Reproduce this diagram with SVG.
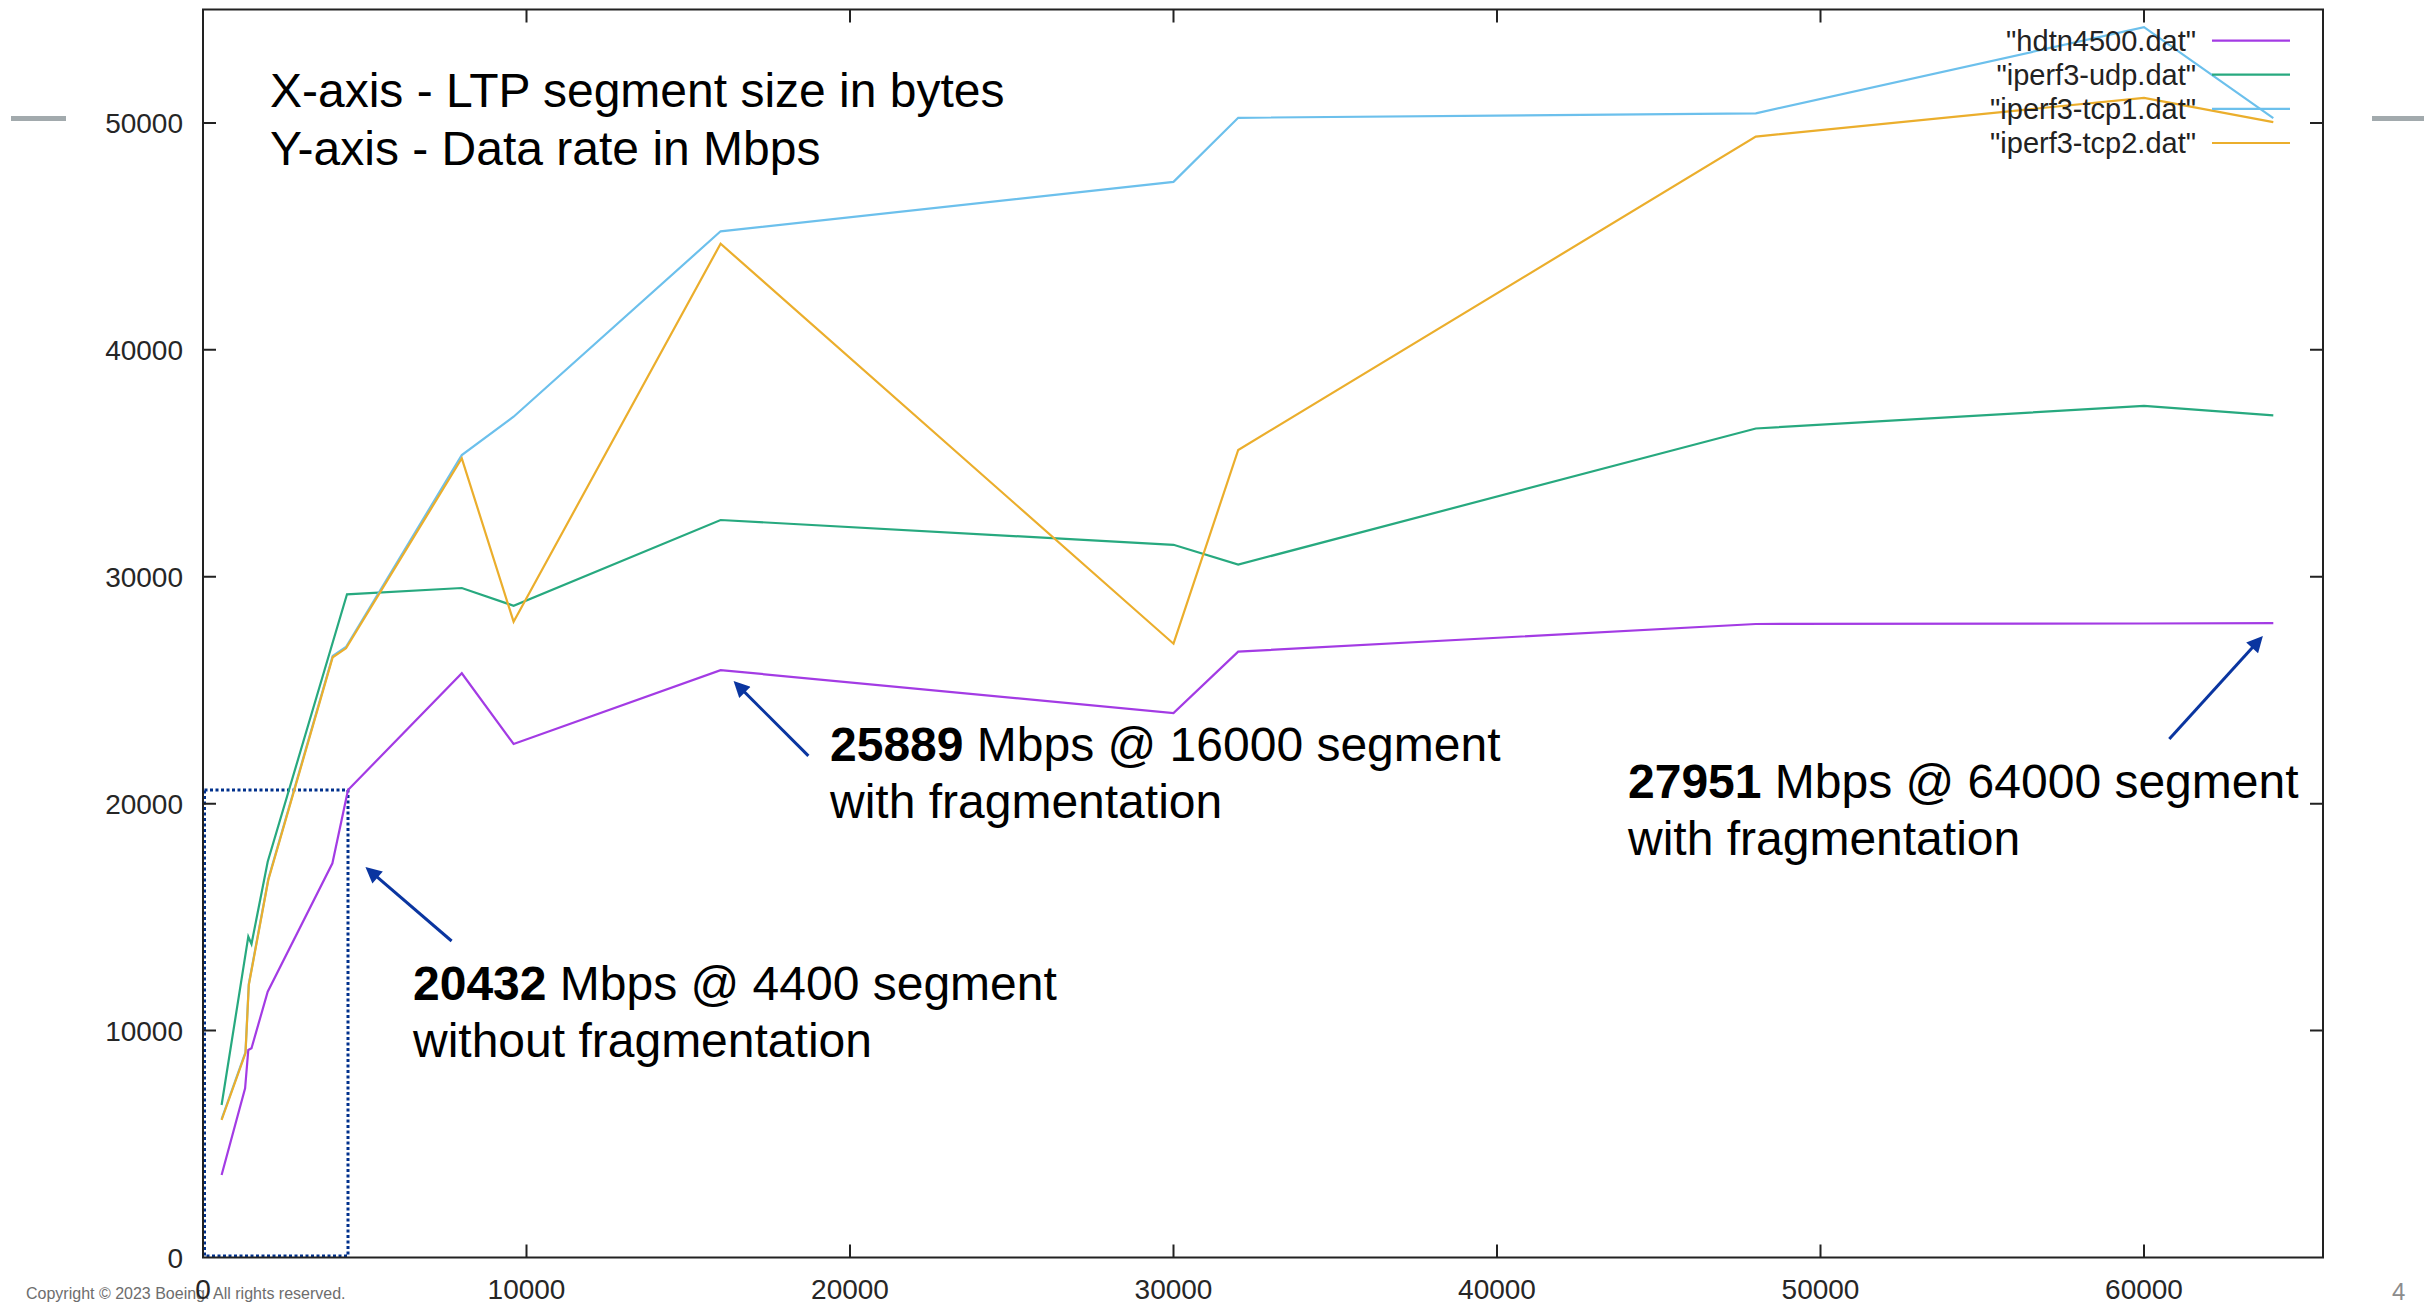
<svg xmlns="http://www.w3.org/2000/svg" width="2433" height="1304" viewBox="0 0 2433 1304">
  <style>
    .axis { fill: none; stroke: #222; stroke-width: 2; }
    .tick { stroke: #222; stroke-width: 2; }
    .tl { font-family: "Liberation Sans", Arial, sans-serif; font-size: 28px; fill: #262626; }
    .tly { text-anchor: end; }
    .tlx { text-anchor: middle; }
    .series { fill: none; stroke-width: 2.2; stroke-linejoin: miter; }
    .s-hdtn { stroke: #A33BE4; }
    .s-udp { stroke: #27A97F; }
    .s-tcp1 { stroke: #6CC0EC; }
    .s-tcp2 { stroke: #EBAE2C; }
    .leg { font-family: "Liberation Sans", Arial, sans-serif; font-size: 29px; fill: #222; text-anchor: end; }
    .note { font-family: "Liberation Sans", Arial, sans-serif; font-size: 48px; fill: #000; }
    .note tspan.b { font-weight: bold; }
    .arrow { stroke: #0A35A0; stroke-width: 3; fill: none; marker-end: url(#head); }
    .dash { fill: #A2AAAD; }
    .foot { font-family: "Liberation Sans", Arial, sans-serif; }
  </style>
  <defs>
    <marker id="head" viewBox="0 0 10 10" refX="6" refY="5" markerWidth="20" markerHeight="16" markerUnits="userSpaceOnUse" orient="auto">
      <path d="M0,0 L10,5 L0,10 z" fill="#0A35A0"/>
    </marker>
  </defs>

  <rect width="2433" height="1304" fill="#fff"/>

  <!-- slide decorations -->
  <g id="slide-marks">
    <rect class="dash" x="11" y="116" width="55" height="5"/>
    <rect class="dash" x="2372" y="116" width="52" height="5"/>
    <text class="foot" x="26" y="1299" font-size="16" fill="#6d6d6d">Copyright © 2023 Boeing. All rights reserved.</text>
    <text class="foot" x="2392" y="1300" font-size="24" fill="#8c8c8c">4</text>
  </g>

  <!-- highlight box around the small-segment region -->
  <g id="zoom-box">
    <rect x="204.5" y="790" width="143.5" height="466" fill="none" stroke="#00308C" stroke-width="3" stroke-dasharray="3 2.5"/>
  </g>

  <!-- data series -->
  <g id="series">
    <polyline id="hdtn4500" class="series s-hdtn" points="221.6,1175 245.1,1088.3 248.3,1050 251.5,1048.3 267.7,991.7 332.4,863.3 348,790 461.8,673.3 513.6,744 720.6,670.1 1173.5,713 1238.2,651.6 1755.8,624 2144,623.5 2273.3,623.2"/>
    <polyline id="iperf3-udp" class="series s-udp" points="221.6,1105 248.3,936.7 251.5,944 267.7,861.7 347,594.3 461.8,588 513.6,605.7 720.6,520 1173.5,544.8 1238.2,564.6 1755.8,428.5 2144,405.9 2273.3,415.3"/>
    <polyline id="iperf3-tcp1" class="series s-tcp1" points="221.6,1119 245.5,1052 248.8,984 268.3,879 332.7,656 346,647 461.8,455 513.6,416.7 720.6,231.3 1173.5,181.9 1238.2,117.8 1755.8,113.3 2144,27.1 2273.3,118.2"/>
    <polyline id="iperf3-tcp2" class="series s-tcp2" points="221.6,1120 245.5,1053 248.8,985 268.3,880 332.7,657.3 346,648.3 461.8,458.3 513.6,621.7 720.6,243.7 1173.5,643.7 1238.2,450 1755.8,136.6 2144,97.8 2273.3,122.2"/>
  </g>

  <!-- plot frame and ticks -->
  <g id="frame">
    <rect class="axis" x="203" y="9.5" width="2120" height="1248"/>
    <path class="tick" d="M203,1030.6h13M203,803.7h13M203,576.8h13M203,349.8h13M203,122.9h13
                          M2323,1030.6h-13M2323,803.7h-13M2323,576.8h-13M2323,349.8h-13M2323,122.9h-13
                          M526.5,1257.5v-13M850,1257.5v-13M1173.5,1257.5v-13M1497,1257.5v-13M1820.5,1257.5v-13M2144,1257.5v-13
                          M526.5,9.5v13M850,9.5v13M1173.5,9.5v13M1497,9.5v13M1820.5,9.5v13M2144,9.5v13"/>
    <text class="tl tly" x="183" y="1267.5">0</text>
    <text class="tl tly" x="183" y="1040.6">10000</text>
    <text class="tl tly" x="183" y="813.7">20000</text>
    <text class="tl tly" x="183" y="586.8">30000</text>
    <text class="tl tly" x="183" y="359.8">40000</text>
    <text class="tl tly" x="183" y="132.9">50000</text>
    <text class="tl tlx" x="203" y="1299">0</text>
    <text class="tl tlx" x="526.5" y="1299">10000</text>
    <text class="tl tlx" x="850" y="1299">20000</text>
    <text class="tl tlx" x="1173.5" y="1299">30000</text>
    <text class="tl tlx" x="1497" y="1299">40000</text>
    <text class="tl tlx" x="1820.5" y="1299">50000</text>
    <text class="tl tlx" x="2144" y="1299">60000</text>
  </g>

  <!-- key -->
  <g id="legend">
    <text class="leg" x="2196" y="50.5">"hdtn4500.dat"</text>
    <line class="series s-hdtn" x1="2212" y1="40.6" x2="2290" y2="40.6"/>
    <text class="leg" x="2196" y="84.5">"iperf3-udp.dat"</text>
    <line class="series s-udp" x1="2212" y1="74.6" x2="2290" y2="74.6"/>
    <text class="leg" x="2196" y="118.7">"iperf3-tcp1.dat"</text>
    <line class="series s-tcp1" x1="2212" y1="108.8" x2="2290" y2="108.8"/>
    <text class="leg" x="2196" y="153">"iperf3-tcp2.dat"</text>
    <line class="series s-tcp2" x1="2212" y1="143" x2="2290" y2="143"/>
  </g>

  <!-- axis description -->
  <g id="axis-caption">
    <text class="note" x="270" y="107">X-axis - LTP segment size in bytes</text>
    <text class="note" x="270" y="165">Y-axis - Data rate in Mbps</text>
  </g>

  <g id="note-4400">
    <text class="note" x="413" y="1000"><tspan class="b">20432</tspan> Mbps @ 4400 segment</text>
    <text class="note" x="413" y="1057">without fragmentation</text>
  </g>

  <g id="note-16000">
    <text class="note" x="830" y="761"><tspan class="b">25889</tspan> Mbps @ 16000 segment</text>
    <text class="note" x="830" y="818">with fragmentation</text>
  </g>

  <g id="note-64000">
    <text class="note" x="1628" y="798"><tspan class="b">27951</tspan> Mbps @ 64000 segment</text>
    <text class="note" x="1628" y="855">with fragmentation</text>
  </g>

  <!-- pointers from notes to data points -->
  <g id="connectors">
    <line class="arrow" x1="451.6" y1="941" x2="370.3" y2="871.2"/>
    <line class="arrow" x1="808.4" y1="755.9" x2="738.1" y2="685.6"/>
    <line class="arrow" x1="2169.3" y1="739" x2="2258.6" y2="640.8"/>
  </g>
</svg>
